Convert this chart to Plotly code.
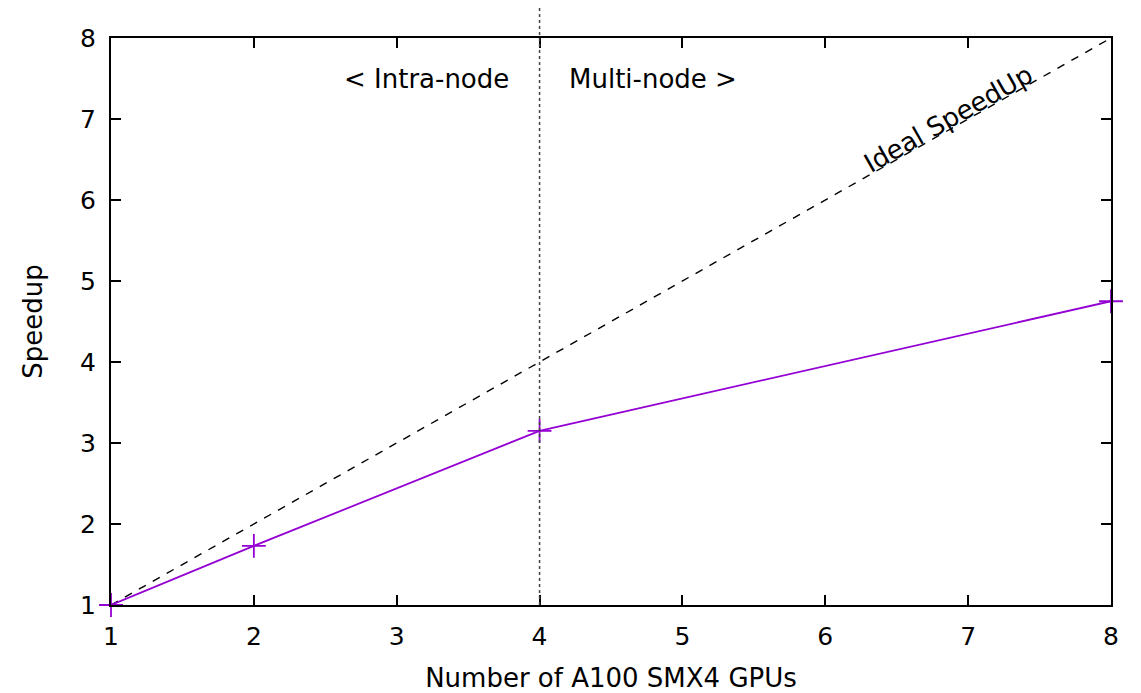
import plotly.graph_objects as go

gpus = [1, 2, 4, 8]
speedup = [1.0, 1.73, 3.15, 4.75]
ideal_x = [1, 8]
ideal_y = [1, 8]
x_ticks = [1, 2, 3, 4, 5, 6, 7, 8]
y_ticks = [1, 2, 3, 4, 5, 6, 7, 8]
split_x = 4

FONT = "DejaVu Sans"

fig = go.Figure()
fig.add_trace(go.Scatter(
    x=ideal_x, y=ideal_y, mode="lines",
    line=dict(color="black", width=1.4, dash="8px,8px"),
    showlegend=False, hoverinfo="skip"))
fig.add_trace(go.Scatter(
    x=gpus, y=speedup, mode="lines+markers",
    line=dict(color="#9400D3", width=1.8),
    marker=dict(symbol="cross-thin", size=17, line=dict(color="#9400D3", width=1.8)),
    showlegend=False, cliponaxis=False))

fig.add_shape(type="line", xref="x", yref="paper", x0=split_x, x1=split_x, y0=0, y1=1.055,
              line=dict(color="#444444", width=1.5, dash="dot"))

fig.add_annotation(x=split_x, y=7.5, xref="x", yref="y", text="< Intra-node",
                   showarrow=False, xanchor="right", xshift=-29,
                   font=dict(family=FONT, size=26, color="black"))
fig.add_annotation(x=split_x, y=7.5, xref="x", yref="y", text="Multi-node >",
                   showarrow=False, xanchor="left", xshift=27,
                   font=dict(family=FONT, size=26, color="black"))
fig.add_annotation(x=6.86, y=7.0, xref="x", yref="y", text="Ideal SpeedUp",
                   showarrow=False, textangle=-29.6,
                   font=dict(family=FONT, size=26, color="black"))

axis_common = dict(
    showgrid=False, zeroline=False, showline=True, linecolor="black", linewidth=2,
    mirror="ticks", ticks="inside", ticklen=10, tickwidth=1.5, tickcolor="black",
    tickfont=dict(family=FONT, size=25, color="black"), automargin=False,
)
fig.update_xaxes(range=[1, 8], tickvals=x_ticks, ticktext=[str(v) for v in x_ticks],
                 ticklabelstandoff=8,
                 title=dict(text="Number of A100 SMX4 GPUs", standoff=22,
                            font=dict(family=FONT, size=26, color="black")),
                 **axis_common)
fig.update_yaxes(range=[1, 8], tickvals=y_ticks, ticktext=[str(v) for v in y_ticks],
                 ticklabelstandoff=8,
                 title=dict(text="Speedup", standoff=30,
                            font=dict(family=FONT, size=26, color="black")),
                 **axis_common)

fig.update_layout(
    width=1141, height=693,
    margin=dict(l=111, r=30, t=38, b=88),
    plot_bgcolor="white", paper_bgcolor="white",
)
fig.write_html("out.html")
